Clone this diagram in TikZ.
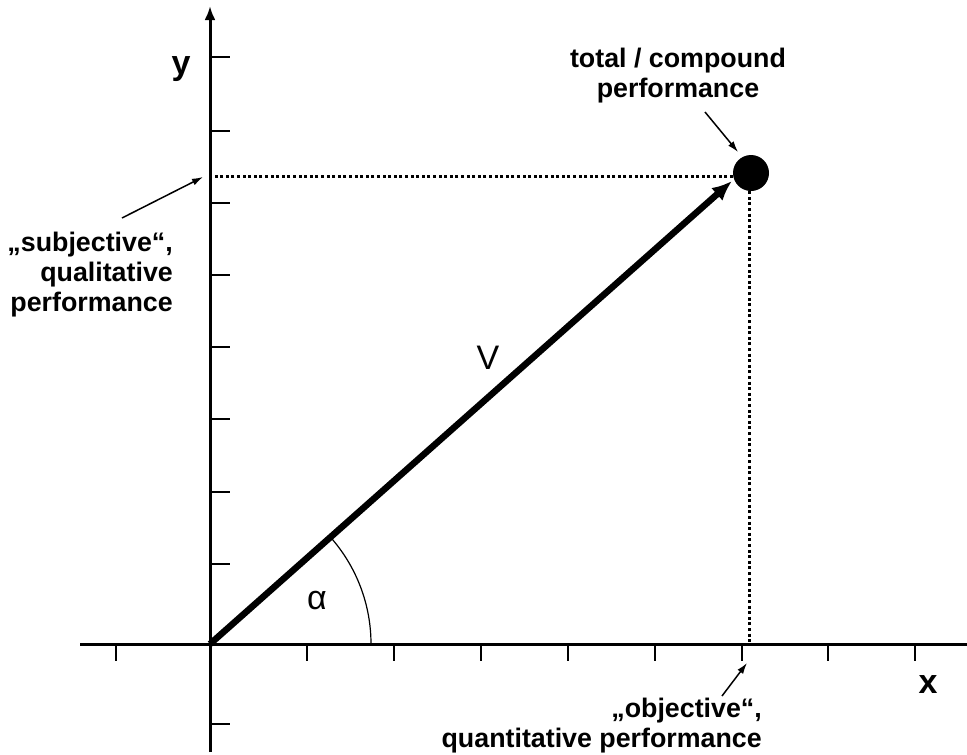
\documentclass[tikz,border=0pt]{standalone}
\usepackage{fontspec}
\setmainfont{Liberation Sans}
\usepackage{tikz}
\usetikzlibrary{arrows.meta, positioning}

\begin{document}
\begin{tikzpicture}[
    x=1pt, y=-1pt,
    axis/.style={line width=3pt},
    tick/.style={line width=1.5pt},
    guide/.style={line width=3pt, dash pattern=on 3pt off 2.6pt},
    vector/.style={line width=6.5pt, -{Latex[length=20pt,width=17pt]}},
    pointer/.style={line width=1.5pt, -{Latex[length=11pt,width=7pt]}},
    note/.style={font=\bfseries\fontsize{26.8}{30}\selectfont, inner sep=0pt},
    axlabel/.style={font=\bfseries\fontsize{34}{36}\selectfont, inner sep=0pt},
    symb/.style={font=\fontsize{34}{36}\selectfont, inner sep=0pt},
]
\useasboundingbox (0,0) rectangle (967,755);

% Axes
\coordinate (O) at (210,644);
\draw[axis] (80,644) -- (967,644);
\draw[axis, -{Latex[length=14pt,width=11pt]}] (210,752) -- (210,6);
\foreach \tx in {116,307,394,481,568,655,742,828,915}
    \draw[tick] (\tx,644) -- (\tx,661);
\foreach \ty in {57,131,203,275,347,419,492,564,724}
    \draw[tick] (210,\ty) -- (230,\ty);
\node[axlabel] (ylab) at (181,69) {y};
\node[axlabel] (xlab) at (928,685) {x};

% Compound point and guides
\node[circle, fill=black, minimum size=36pt, inner sep=0pt] (total) at (751,173) {};
\coordinate (P) at (732,181);
\coordinate (ymark) at (210,176);
\coordinate (xmark) at (749,644);
\draw[guide] (total.west |- ymark) -- (ymark);
\draw[guide] (xmark |- total.south) -- (xmark);

% Vector and angle
\draw[vector] (O) -- (P);
\draw[line width=1.2pt] (O) ++(161,0) arc[start angle=0, end angle=-41.6, radius=161];
\node[symb] (V) at (488,358) {V};
\node[symb] (alpha) at (317,601) {α};

% Labels
\node[note, align=center] (compound) at (678,76) {total / compound\\performance};
\node[note, align=right, anchor=east] (subj) at (173,275) {„subjective“,\\qualitative\\performance};
\node[note, align=right, anchor=east] (obj) at (762,726) {„objective“,\\quantitative performance};

% Pointers
\coordinate (c1) at (705,112);
\coordinate (c2) at (738,152);
\coordinate (s1) at (122,218);
\coordinate (s2) at (203,177);
\coordinate (o1) at (722,696);
\coordinate (o2) at (747,663);
\draw[pointer] (c1) -- (c2);
\draw[pointer] (s1) -- (s2);
\draw[pointer] (o1) -- (o2);

\end{tikzpicture}
\end{document}
